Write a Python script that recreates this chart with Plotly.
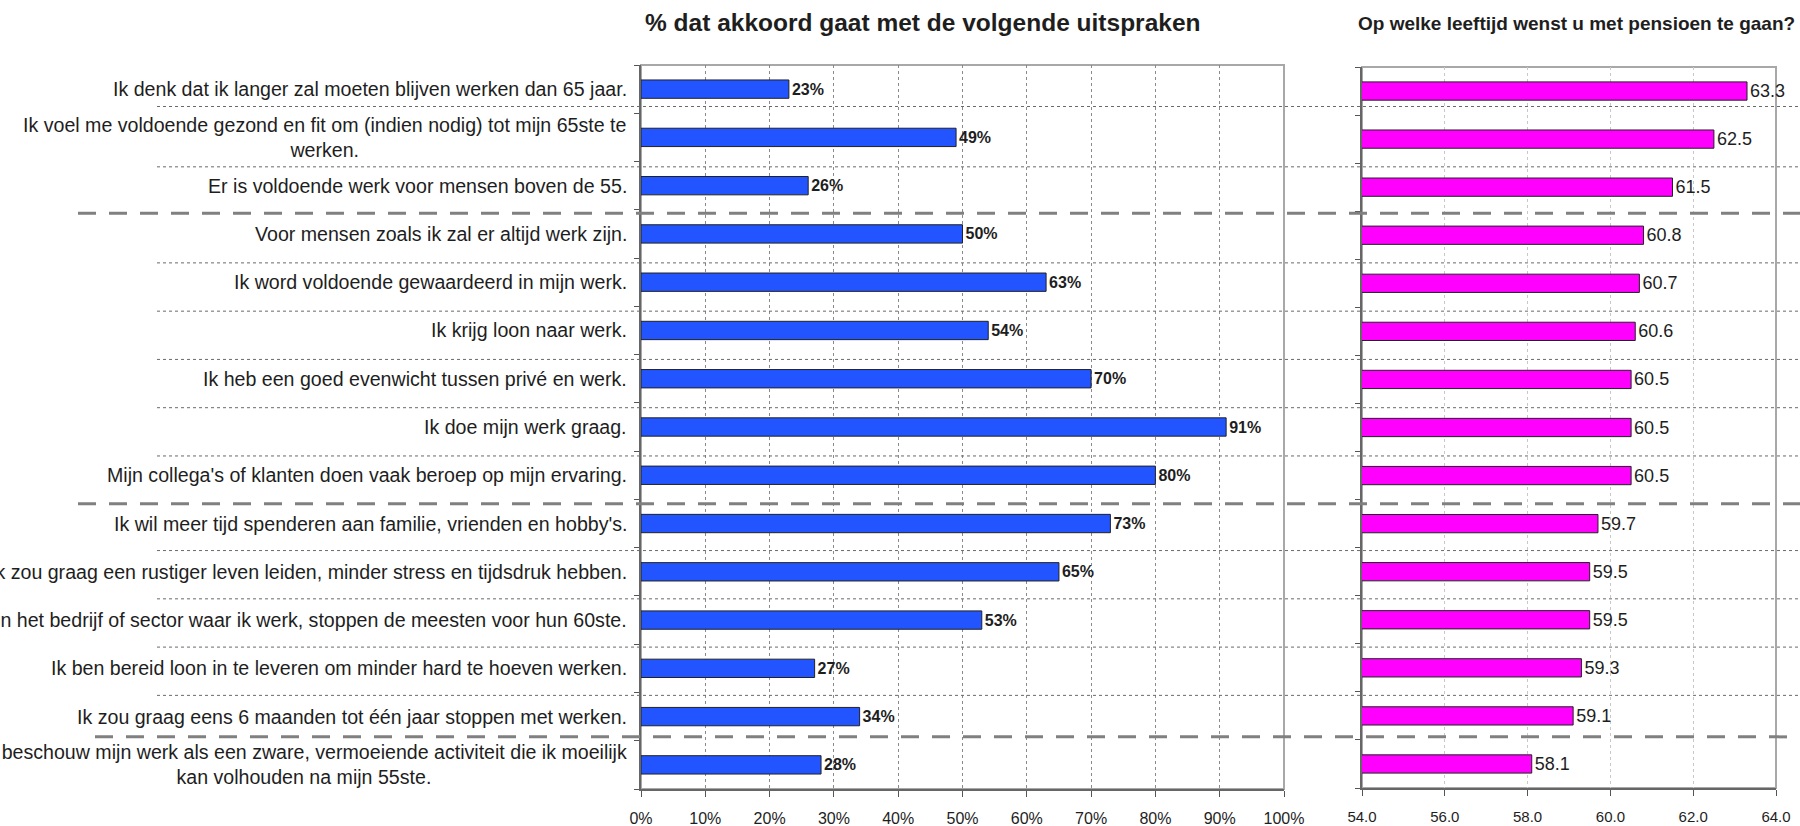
import plotly.graph_objects as go

W, H = 1800, 826

statements = [
    "Ik denk dat ik langer zal moeten blijven werken dan 65 jaar.",
    "Ik voel me voldoende gezond en fit om (indien nodig) tot mijn 65ste te<br>werken.",
    "Er is voldoende werk voor mensen boven de 55.",
    "Voor mensen zoals ik zal er altijd werk zijn.",
    "Ik word voldoende gewaardeerd in mijn werk.",
    "Ik krijg loon naar werk.",
    "Ik heb een goed evenwicht tussen privé en werk.",
    "Ik doe mijn werk graag.",
    "Mijn collega's of klanten doen vaak beroep op mijn ervaring.",
    "Ik wil meer tijd spenderen aan familie, vrienden en hobby's.",
    "Ik zou graag een rustiger leven leiden, minder stress en tijdsdruk hebben.",
    "In het bedrijf of sector waar ik werk, stoppen de meesten voor hun 60ste.",
    "Ik ben bereid loon in te leveren om minder hard te hoeven werken.",
    "Ik zou graag eens 6 maanden tot één jaar stoppen met werken.",
    "Ik beschouw mijn werk als een zware, vermoeiende activiteit die ik moeilijk<br>kan volhouden na mijn 55ste.",
]
pct_agree = [23, 49, 26, 50, 63, 54, 70, 91, 80, 73, 65, 53, 27, 34, 28]
retire_age = [63.3, 62.5, 61.5, 60.8, 60.7, 60.6, 60.5, 60.5, 60.5, 59.7, 59.5, 59.5, 59.3, 59.1, 58.1]

title_left = "% dat akkoord gaat met de volgende uitspraken"
title_right = "Op welke leeftijd wenst u met pensioen te gaan?"
pct_ticks = list(range(0, 101, 10))
pct_ticklabels = [f"{v}%" for v in pct_ticks]
age_ticks = [54, 56, 58, 60, 62, 64]
age_ticklabels = [f"{v:.1f}" for v in age_ticks]

# separator positions (in row units) between statement groups
dotted_sep = [0.36, 1.61, 3.6, 4.6, 5.6, 6.6, 7.6, 9.56, 10.56, 11.56, 12.56]
dashed_sep = [(2.57, 78), (8.59, 78), (13.42, 95)]

rows = list(range(len(statements)))
FONT = "Liberation Sans, Arial, sans-serif"
TXT = "#1e1e1e"

fig = go.Figure()
fig.add_trace(go.Bar(
    x=pct_agree, y=rows, orientation="h", width=0.38,
    marker=dict(color="#2255ff", line=dict(color="#222222", width=1)),
    text=[f"{v}%" for v in pct_agree], textposition="outside",
    textfont=dict(family=FONT, size=16, color=TXT, weight="bold"),
    cliponaxis=False, constraintext="none", xaxis="x", yaxis="y",
    hoverinfo="skip"))
fig.add_trace(go.Bar(
    x=retire_age, y=rows, orientation="h", width=0.38,
    marker=dict(color="#ff00ff", line=dict(color="#222222", width=1)),
    text=[f"{v:.1f}" for v in retire_age], textposition="outside",
    textfont=dict(family=FONT, size=18, color=TXT),
    cliponaxis=False, constraintext="none", xaxis="x2", yaxis="y2",
    hoverinfo="skip"))

common_y = dict(range=[len(rows) - 0.5, -0.5], tickvals=[i - 0.5 for i in range(len(rows) + 1)],
                ticks="outside", ticklen=5, tickcolor="#555", showticklabels=False,
                showline=True, linecolor="#666", linewidth=2, showgrid=False, zeroline=False)

fig.update_layout(
    width=W, height=H, margin=dict(l=0, r=0, t=0, b=0),
    paper_bgcolor="white", plot_bgcolor="white", showlegend=False,
    barmode="overlay",
    xaxis=dict(domain=[641 / W, 1284 / W], range=[0, 100], tickmode="array",
               tickvals=pct_ticks, ticktext=pct_ticklabels,
               showgrid=True, gridcolor="#8a8a8a", griddash="dot", gridwidth=1,
               showline=True, linecolor="#666", linewidth=2, ticks="outside", ticklen=6,
               tickcolor="#555", zeroline=False, anchor="y", ticklabelstandoff=8,
               tickfont=dict(family=FONT, size=16, color=TXT), automargin=False),
    yaxis=dict(domain=[1 - 789 / H, 1 - 65 / H], anchor="x", automargin=False, **common_y),
    xaxis2=dict(domain=[1362 / W, 1776 / W], range=[54, 64], tickmode="array",
                tickvals=age_ticks, ticktext=age_ticklabels,
                showgrid=True, gridcolor="#c8c8c8", griddash="dot", gridwidth=1,
                showline=True, linecolor="#666", linewidth=2, ticks="outside", ticklen=6,
                tickcolor="#555", zeroline=False, anchor="y2", ticklabelstandoff=8,
                tickfont=dict(family=FONT, size=15, color=TXT), automargin=False),
    yaxis2=dict(domain=[1 - 788 / H, 1 - 67 / H], anchor="x2", automargin=False, **common_y),
)

shapes = []
for xr, yr in (("x domain", "y domain"), ("x2 domain", "y2 domain")):
    shapes.append(dict(type="rect", xref=xr, yref=yr, x0=0, x1=1, y0=0, y1=1,
                       line=dict(color="#a8a8a8", width=2), layer="below"))
for s in dotted_sep:
    shapes.append(dict(type="line", xref="paper", yref="y", x0=157 / W, x1=1, y0=s, y1=s,
                       line=dict(color="#6a6a6a", width=1, dash="dot")))
for s, x0 in dashed_sep:
    shapes.append(dict(type="line", xref="paper", yref="y", x0=x0 / W, x1=1, y0=s, y1=s,
                       line=dict(color="#808080", width=3, dash="18px,13px")))
fig.update_layout(shapes=shapes)

ann = []
for i, lab in enumerate(statements):
    ann.append(dict(text=lab, xref="paper", yref="y", x=629 / W, y=i, xanchor="right",
                    yanchor="middle", align="center", showarrow=False,
                    font=dict(family=FONT, size=19.6, color=TXT)))
ann.append(dict(text=title_left, xref="paper", yref="paper", x=922 / W, y=1 - 23 / H,
                xanchor="center", yanchor="middle", showarrow=False,
                font=dict(family=FONT, size=24.5, color=TXT, weight="bold")))
ann.append(dict(text=title_right, xref="paper", yref="paper", x=1576 / W, y=1 - 24 / H,
                xanchor="center", yanchor="middle", showarrow=False,
                font=dict(family=FONT, size=19, color=TXT, weight="bold")))
fig.update_layout(annotations=ann)

fig.write_html("out.html", config={"displayModeBar": False},
               post_script="document.body.style.margin='0';document.body.style.overflow='hidden';")
